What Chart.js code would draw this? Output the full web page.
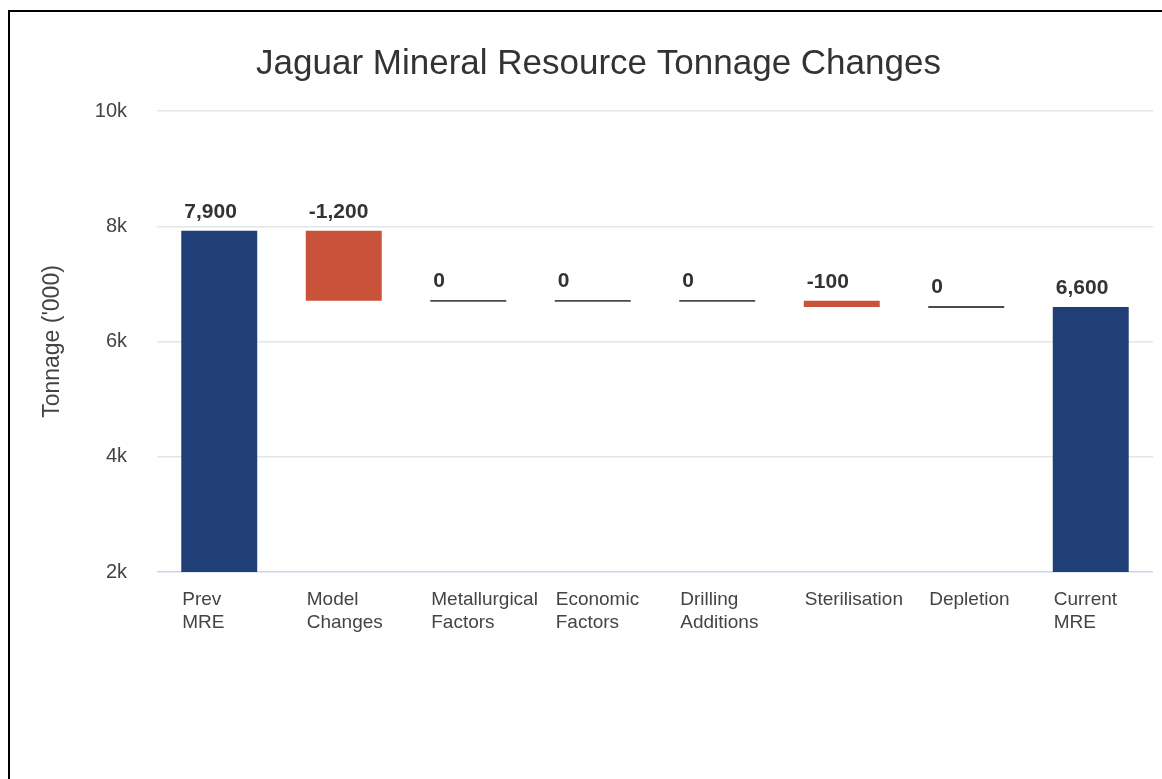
<!DOCTYPE html>
<html>
<head>
<meta charset="utf-8">
<script src="https://cdn.jsdelivr.net/npm/chart.js@4/dist/chart.umd.min.js"></script>
<style>
  html, body { margin: 0; padding: 0; background: #fff; overflow: hidden; }
  #frame { position: absolute; left: 8px; top: 10px; width: 1170px; height: 790px; border-left: 2px solid #000; border-top: 2px solid #000; }
  #wrap { position: absolute; left: 0; top: 0; width: 1162px; height: 779px; }
</style>
</head>
<body>
<div id="frame"></div>
<div id="wrap"><canvas id="c" width="1162" height="779"></canvas></div>
<script>
const categories = [
  ['Prev', 'MRE'],
  ['Model', 'Changes'],
  ['Metallurgical', 'Factors'],
  ['Economic', 'Factors'],
  ['Drilling', 'Additions'],
  ['Sterilisation'],
  ['Depletion'],
  ['Current', 'MRE']
];
const startValue = 7920;
const changes = [-1215, 0, 0, 0, -105, 0];
const endValue = 6600;
const yTicks = [2000, 4000, 6000, 8000, 10000];

const BLUE = '#1f3f76';
const ORANGE = '#c8523a';
const ZERO = '#4a4a4a';
const ZERO_HALF = 17; // half-thickness of the zero-change marker, in data units
const FONT = '"Liberation Sans", Arial, sans-serif';

// build floating bars
const ranges = [];
const labelValues = [];
const colors = [];
let level = startValue;
ranges.push([yTicks[0], startValue]); labelValues.push(startValue); colors.push(BLUE);
changes.forEach(d => {
  const next = level + d;
  if (d === 0) { ranges.push([level - ZERO_HALF, level + ZERO_HALF]); colors.push(ZERO); }
  else { ranges.push([next, level]); colors.push(ORANGE); }
  labelValues.push(d);
  level = next;
});
ranges.push([yTicks[0], endValue]); labelValues.push(endValue); colors.push(BLUE);

const fmt = v => (Math.round(v / 100) * 100).toLocaleString('en-US');

const valueLabels = {
  id: 'valueLabels',
  afterDatasetsDraw(chart) {
    const ctx = chart.ctx;
    const meta = chart.getDatasetMeta(0);
    ctx.save();
    ctx.font = 'bold 21px ' + FONT;
    ctx.fillStyle = '#333333';
    ctx.textAlign = 'left';
    ctx.textBaseline = 'middle';
    meta.data.forEach((bar, i) => {
      const p = bar.getProps(['x', 'y', 'base', 'width'], true);
      const top = Math.min(p.y, p.base);
      ctx.fillText(fmt(labelValues[i]), p.x - p.width / 2 + 3, top - 19);
    });
    ctx.restore();
  }
};

new Chart(document.getElementById('c'), {
  type: 'bar',
  data: {
    labels: categories,
    datasets: [{
      data: ranges,
      backgroundColor: colors,
      borderWidth: 0,
      barPercentage: 0.61,
      categoryPercentage: 1.0
    }]
  },
  options: {
    responsive: false,
    animation: false,
    layout: { padding: { left: 44, right: 9, top: 0, bottom: 0 } },
    plugins: {
      legend: { display: false },
      tooltip: { enabled: false },
      title: {
        display: true,
        text: 'Jaguar Mineral Resource Tonnage Changes',
        color: '#333333',
        font: { family: FONT, size: 35, weight: 'normal', lineHeight: 1.2 },
        padding: { top: 43, bottom: 26 }
      }
    },
    scales: {
      x: {
        grid: { display: false, drawTicks: false },
        border: { display: false },
        ticks: {
          color: '#444444',
          font: { family: FONT, size: 19, lineHeight: 1.21 },
          padding: 16,
          align: 'start',
          labelOffset: -37,
          maxRotation: 0,
          autoSkip: false
        },
        afterFit(scale) { scale.height = 207; scale.paddingLeft = 0; scale.paddingRight = 0; }
      },
      y: {
        min: yTicks[0],
        max: yTicks[yTicks.length - 1],
        afterBuildTicks(scale) { scale.ticks = yTicks.map(v => ({ value: v })); },
        grid: {
          drawTicks: false,
          lineWidth: 1.5,
          color: ctx => (ctx.tick && ctx.tick.value === yTicks[0]) ? '#c9d6ea' : '#e6e6e6'
        },
        border: { display: false },
        ticks: {
          color: '#444444',
          font: { family: FONT, size: 20 },
          padding: 30,
          callback: v => (v / 1000) + 'k'
        },
        title: {
          display: true,
          text: "Tonnage ('000)",
          color: '#444444',
          font: { family: FONT, size: 23, lineHeight: 1.2 },
          padding: { top: -5, bottom: 0 }
        },
        afterFit(scale) { scale.width = 113; scale.paddingTop = 0; scale.paddingBottom = 0; }
      }
    }
  },
  plugins: [valueLabels]
});
</script>
</body>
</html>
